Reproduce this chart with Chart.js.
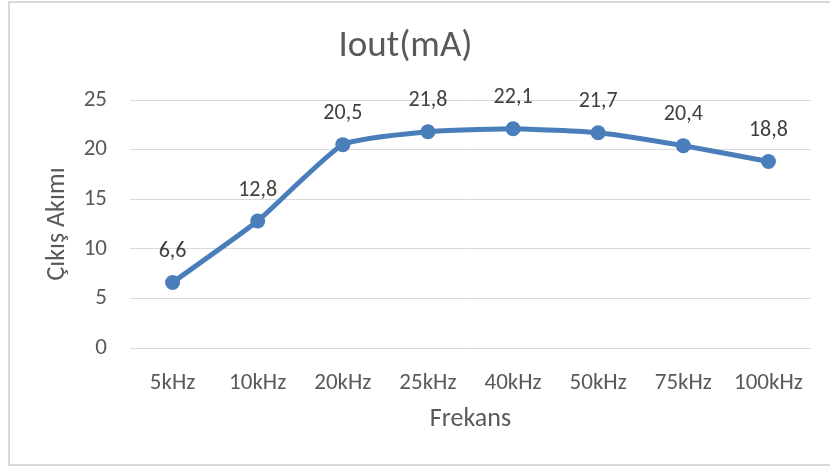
<!DOCTYPE html>
<html>
<head>
<meta charset="utf-8">
<script src="https://cdn.jsdelivr.net/npm/chart.js@4"></script>
<style>
  html, body { margin: 0; padding: 0; background: #fff; }
  #wrap { width: 830px; height: 468px; position: relative; }
</style>
</head>
<body>
<div id="wrap"><canvas id="chart" width="830" height="468"></canvas></div>
<script>
const frequencies = ['5kHz', '10kHz', '20kHz', '25kHz', '40kHz', '50kHz', '75kHz', '100kHz'];
const currentValues = [6.6, 12.8, 20.5, 21.8, 22.1, 21.7, 20.4, 18.8];
const yTicks = [0, 5, 10, 15, 20, 25];

const FONT = 'Carlito, Calibri, Lato, sans-serif';
const lineColor = '#4A7EBB';

// gray frame round the chart, like the Excel chart border
const framePlugin = {
    id: 'frame',
    beforeDraw(chart) {
        const ctx = chart.ctx;
        ctx.save();
        ctx.fillStyle = '#fff';
        ctx.fillRect(0, 0, chart.width, chart.height);
        ctx.strokeStyle = '#d9d9d9';
        ctx.lineWidth = 2;
        ctx.strokeRect(9, 2, chart.width + 10, 463);
        ctx.restore();
    }
};

// value labels above each point, with a comma as decimal sign
const labelPlugin = {
    id: 'valueLabels',
    afterDatasetsDraw(chart) {
        const ctx = chart.ctx;
        const meta = chart.getDatasetMeta(0);
        ctx.save();
        ctx.font = '22px ' + FONT;
        ctx.fillStyle = '#404040';
        ctx.textAlign = 'center';
        ctx.textBaseline = 'middle';
        meta.data.forEach((pt, i) => {
            const txt = currentValues[i].toFixed(1).replace('.', ',');
            ctx.fillText(txt, pt.x, pt.y - 31);
        });
        ctx.restore();
    }
};

new Chart(document.getElementById('chart'), {
    type: 'line',
    data: {
        labels: frequencies,
        datasets: [{
            label: 'Iout(mA)',
            data: currentValues,
            borderColor: lineColor,
            backgroundColor: lineColor,
            borderWidth: 5,
            pointRadius: 7.5,
            pointBackgroundColor: lineColor,
            pointBorderColor: lineColor,
            pointBorderWidth: 0,
            tension: 0.15,
            fill: false
        }]
    },
    options: {
        responsive: false,
        animation: false,
        devicePixelRatio: 1,
        layout: { padding: { left: 0, right: 19, top: 0, bottom: 0 } },
        plugins: {
            legend: { display: false },
            tooltip: { enabled: false },
            title: {
                display: true,
                text: 'Iout(mA)',
                color: '#595959',
                font: { family: FONT, size: 37, weight: 'normal' },
                padding: { top: 25, bottom: 30.6 }
            }
        },
        scales: {
            x: {
                offset: true,
                grid: { display: false, drawTicks: false },
                border: { display: false },
                ticks: {
                    color: '#595959',
                    font: { family: FONT, size: 23 },
                    padding: 21,
                    maxRotation: 0
                },
                title: {
                    display: true,
                    text: 'Frekans',
                    color: '#595959',
                    font: { family: FONT, size: 26 },
                    padding: { top: 0, bottom: 33 }
                },
                afterFit(scale) { scale.height = 120; }
            },
            y: {
                min: 0,
                max: 25,
                grid: { color: '#d9d9d9', lineWidth: 1, drawTicks: false },
                border: { display: false },
                afterBuildTicks(scale) {
                    scale.ticks = yTicks.map(v => ({ value: v }));
                },
                ticks: {
                    color: '#595959',
                    font: { family: FONT, size: 23 },
                    padding: 23
                },
                title: {
                    display: true,
                    text: 'Çıkış Akımı',
                    color: '#595959',
                    font: { family: FONT, size: 26 },
                    padding: { top: 42, bottom: 0 }
                },
                afterFit(scale) { scale.width = 130; }
            }
        }
    },
    plugins: [framePlugin, labelPlugin]
});
</script>
</body>
</html>
